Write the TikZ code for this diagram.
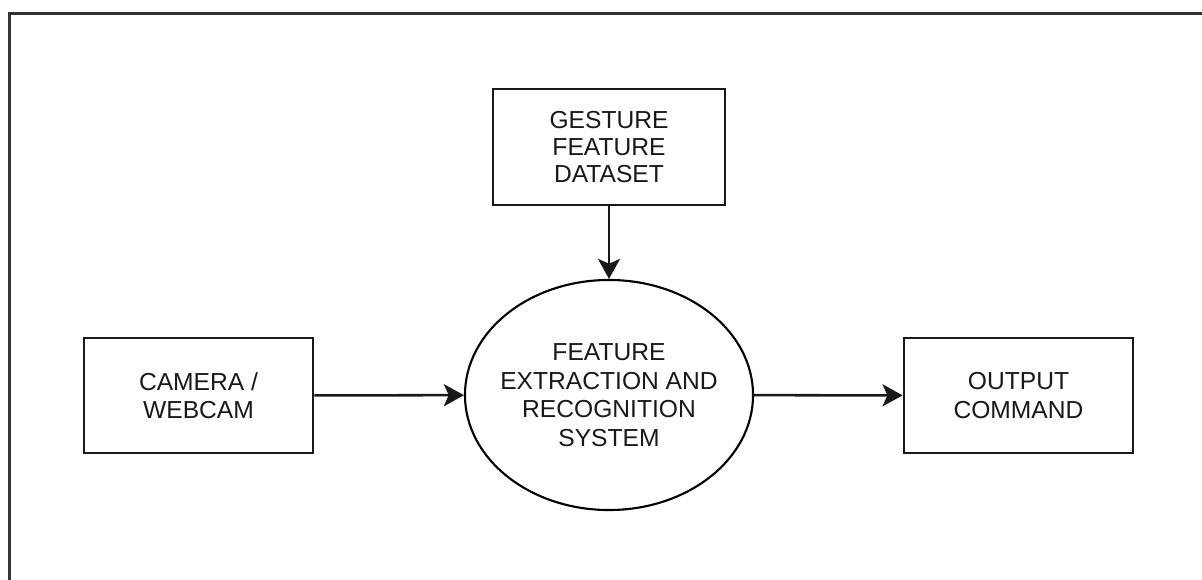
\documentclass[tikz,border=0pt]{standalone}
\usepackage{fontspec}
\setmainfont{Liberation Sans}
\usetikzlibrary{positioning}
\usetikzlibrary{shapes.geometric}
\usetikzlibrary{arrows.meta}

\begin{document}
\begin{tikzpicture}[x=0.025cm, y=-0.025cm,
	block/.style={draw=black!90, line width=2pt, rectangle, minimum width=5.725cm, minimum height=2.875cm, align=center, text=black!90, font=\fontsize{17.5}{20}\selectfont},
	process/.style={draw=black, line width=1.5pt, ellipse, minimum width=7.2cm, minimum height=5.75cm, inner xsep=-0.3cm, inner ysep=0pt, align=center, text=black!90, font=\fontsize{17.5}{20.3}\selectfont},
	flow/.style={-{Stealth[length=0.5cm, width=0.55cm, inset=0.12cm]}, line width=1.8pt, draw=black!90}]
		
		\useasboundingbox (0,0) rectangle (1202,579);
		\clip (0,0) rectangle (1202,579);
		
		% the outer frame runs on past the right and bottom edges
		\draw [line width=2.2pt, black!80] (9.5,600) -- (9.5,13.5) -- (1230,13.5);
		
		\node at (609,147) [block, minimum width=5.8cm, minimum height=2.9cm, font=\fontsize{17.5}{19.2}\selectfont] (dataset) {GESTURE\\FEATURE\\DATASET};
		% inner xsep is negative so the wide text does not blow the ellipse up
		\node at (609,395) [process] (recog) {FEATURE\\EXTRACTION AND\\RECOGNITION\\SYSTEM};
		\node at (198.5,395.5) [block] (camera) {CAMERA /\\WEBCAM};
		\node at (1018.5,395.5) [block] (output) {OUTPUT\\COMMAND};
		
		\draw [flow] (dataset) -- (recog);
		\draw [flow] (camera) -- (recog);
		\draw [flow] (recog) -- (output);
		
\end{tikzpicture}
\end{document}
